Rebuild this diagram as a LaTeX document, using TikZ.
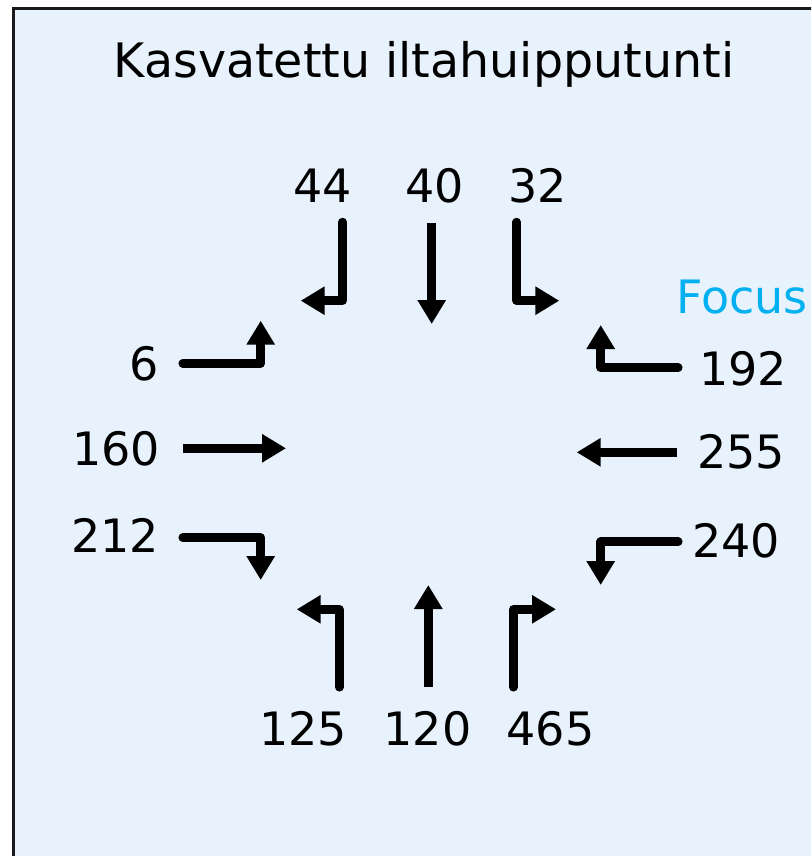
\documentclass[tikz,border=0pt]{standalone}
\usepackage{fontspec}
\setmainfont{DejaVu Sans}
\usetikzlibrary{arrows.meta}
\definecolor{bgblue}{HTML}{E8F2FC}
\definecolor{focuscyan}{HTML}{00B0F0}
\begin{document}
\begin{tikzpicture}[x=1pt,y=-1pt,
  arr/.style={line width=8.5pt,line join=round,line cap=round,-{Triangle[width=27pt,length=24pt]}},
  sarr/.style={line width=8.5pt,line cap=butt,-{Triangle[width=27pt,length=24pt]}},
  num/.style={inner sep=0pt,font=\fontsize{46}{50}\selectfont,text=black},
  ttl/.style={inner sep=0pt,font=\fontsize{47.5}{52}\selectfont,text=black}]
\useasboundingbox (0,0) rectangle (811,856);
\begin{scope}
\clip (0,0) rectangle (811,856);
\fill[white] (0,0) rectangle (811,856);
\filldraw[fill=bgblue,draw=black!90,line width=3pt] (13,9) rectangle (840,880);
\end{scope}
% title
\node[ttl,anchor=base] (title) at (424,78) {Kasvatettu iltahuipputunti};
\node[num,anchor=base west,text=focuscyan] (focus) at (676,313) {Focus};
% labels
\node[num,anchor=base] (n44) at (323,202) {44};
\node[num,anchor=base] (n40) at (435,202) {40};
\node[num,anchor=base] (n32) at (538,202) {32};
\node[num,anchor=base east] (n6) at (159,380) {6};
\node[num,anchor=base east] (n160) at (160,465) {160};
\node[num,anchor=base east] (n212) at (159,552) {212};
\node[num,anchor=base west] (n192) at (699,385) {192};
\node[num,anchor=base west] (n255) at (697,468) {255};
\node[num,anchor=base west] (n240) at (692,557) {240};
\node[num,anchor=base] (n125) at (303,745) {125};
\node[num,anchor=base] (n120) at (427.5,745) {120};
\node[num,anchor=base] (n465) at (550.5,745) {465};
% arrow coordinates
\coordinate (a44s) at (342.7,222);
\coordinate (a44b) at (342.7,300.7);
\coordinate (a44t) at (300.7,300.7);
\coordinate (a40s) at (431.7,223);
\coordinate (a40t) at (431.7,324);
\coordinate (a32s) at (516.7,222);
\coordinate (a32b) at (516.7,300.7);
\coordinate (a32t) at (559.3,300.7);
\coordinate (a6s) at (182.7,363.3);
\coordinate (a6b) at (260.7,363.3);
\coordinate (a6t) at (260.7,320.7);
\coordinate (a160s) at (183.3,448.3);
\coordinate (a160t) at (286,448.3);
\coordinate (a212s) at (182.7,537.7);
\coordinate (a212b) at (260.7,537.7);
\coordinate (a212t) at (260.7,580);
\coordinate (a192s) at (678.3,367.7);
\coordinate (a192b) at (600.7,367.7);
\coordinate (a192t) at (600.7,325);
\coordinate (a255s) at (677.3,452.3);
\coordinate (a255t) at (576.7,452.3);
\coordinate (a240s) at (678.3,541.7);
\coordinate (a240b) at (600.7,541.7);
\coordinate (a240t) at (600.7,585);
\coordinate (a125s) at (339.3,687.3);
\coordinate (a125b) at (339.3,609.3);
\coordinate (a125t) at (296.7,609.3);
\coordinate (a120s) at (428.3,686.7);
\coordinate (a120t) at (428.3,585);
\coordinate (a465s) at (513.3,687.3);
\coordinate (a465b) at (513.3,609.3);
\coordinate (a465t) at (556,609.3);
% arrows
\draw[arr] (a44s) -- (a44b) -- (a44t);
\draw[sarr] (a40s) -- (a40t);
\draw[arr] (a32s) -- (a32b) -- (a32t);
\draw[arr] (a6s) -- (a6b) -- (a6t);
\draw[sarr] (a160s) -- (a160t);
\draw[arr] (a212s) -- (a212b) -- (a212t);
\draw[arr] (a192s) -- (a192b) -- (a192t);
\draw[sarr] (a255s) -- (a255t);
\draw[arr] (a240s) -- (a240b) -- (a240t);
\draw[arr] (a125s) -- (a125b) -- (a125t);
\draw[sarr] (a120s) -- (a120t);
\draw[arr] (a465s) -- (a465b) -- (a465t);
\end{tikzpicture}
\end{document}
